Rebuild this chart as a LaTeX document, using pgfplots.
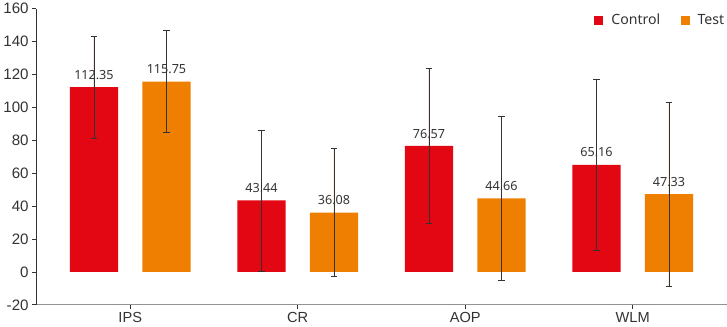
\documentclass[border=0pt]{standalone}
\usepackage{pgfplots}
\pgfplotsset{compat=1.18}
\usepackage{fontspec}
\setmainfont{Liberation Sans}
\newfontfamily\notosans{Noto Sans}
\definecolor{cred}{RGB}{227,6,19}
\definecolor{corange}{RGB}{239,127,0}
\definecolor{txt}{RGB}{51,51,51}
\begin{document}
\begin{tikzpicture}
\begin{axis}[
  scale only axis, width=685pt, height=294pt,
  xmin=-0.56, xmax=3.56, ymin=-20, ymax=160,
  ytick={-20,0,20,40,60,80,100,120,140,160},
  xtick={0,1,2,3}, xticklabels={IPS,CR,AOP,WLM},
  axis x line*=bottom, axis y line*=left,
  x axis line style={-, draw=gray!85, line width=1pt},
  y axis line style={-, draw=txt, line width=0.8pt},
  tick align=outside,
  ytick style={draw=txt, line width=0.8pt},
  xtick style={draw=txt, line width=0.8pt},
  y tick label style={font=\fontsize{15}{17}\selectfont, text=txt},
  x tick label style={font=\fontsize{14.5}{17}\selectfont, text=txt},
  /pgf/number format/assume math mode=true,
  ybar, bar width=48pt,
  nodes near coords={\pgfmathprintnumber[fixed,precision=2,fixed zerofill]{\pgfplotspointmeta}},
  every node near coord/.append style={font=\notosans\fontsize{12.5}{14}\selectfont, text=txt, yshift=4pt},
  legend style={at={(1,1)}, anchor=north east, draw=none, fill=none, legend columns=2,
    font=\notosans\fontsize{14}{16}\selectfont, text=txt, inner sep=0pt, yshift=-3pt,
    /tikz/every even column/.append style={column sep=18pt},
    /tikz/every odd column/.append style={column sep=6pt}},
  legend image code/.code={\fill[#1] (0pt,-4.5pt) rectangle (9pt,4.5pt);},
  error bars/y dir=both, error bars/y explicit,
  error bars/error bar style={draw=txt, line width=0.8pt},
  error bars/error mark options={rotate=90, mark size=3.2pt, draw=txt, line width=0.8pt},
]
\addplot[fill=cred, draw=none, bar shift=-36pt] coordinates {
  (0,112.35) +- (0,30.9)
  (1,43.44) +- (0,42.8)
  (2,76.57) +- (0,47.0)
  (3,65.16) +- (0,51.9)
};
\addplot[fill=corange, draw=none, bar shift=36pt] coordinates {
  (0,115.75) +- (0,30.9)
  (1,36.08) +- (0,38.8)
  (2,44.66) +- (0,50.0)
  (3,47.33) +- (0,55.8)
};
\legend{Control,Test}
\end{axis}
\end{tikzpicture}
\end{document}
